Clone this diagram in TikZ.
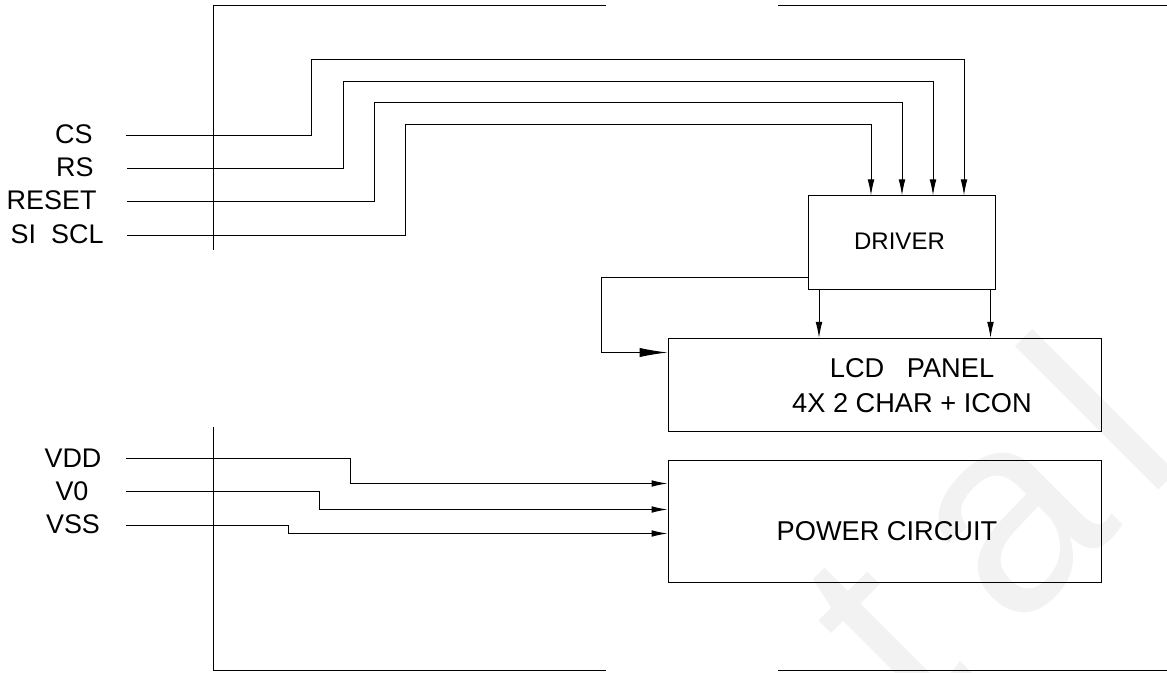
\documentclass[tikz,border=0pt]{standalone}
\usepackage{fontspec}
\setmainfont{Liberation Sans}
\usetikzlibrary{arrows.meta}
\tikzset{
  box/.style={draw, minimum width=#1, inner sep=0pt},
  lbl/.style={inner sep=0pt, font=\fontsize{20.2}{24}\selectfont},
  txt/.style={inner sep=0pt, align=center, font=\fontsize{20.4}{26.2}\selectfont},
  sig/.style={-{Latex[length=12pt,width=5pt]}}
}
\begin{document}
\begin{tikzpicture}[x=0.75pt, y=-0.75pt, line width=0.75pt]
\useasboundingbox (0,-0.5) rectangle (1167,672.5);
% watermark
\node[rotate=45, text=black!5, inner sep=0pt, font=\fontsize{210}{210}\selectfont] (mark) at (984,523) {t\kern41pt a\kern23pt l};
% outer frame
\draw (606,5) -- (213,5) -- (213,250);
\draw (778,5) -- (1167,5);
\draw (213,426) -- (213,670) -- (606,670);
\draw (778,670) -- (1167,670);
% blocks
\node[box, minimum width=140.25pt, minimum height=70.5pt] (driver) at (901.5,242) {};
\node[box, minimum width=324.75pt, minimum height=69.75pt] (lcd) at (884.5,384.5) {};
\node[box, minimum width=324.75pt, minimum height=91.5pt] (power) at (884.5,521) {};
\node[lbl, font=\fontsize{18}{22}\selectfont] (drivertext) at (899.5,241) {DRIVER};
\node[txt] (lcdtext) at (912,385.5) {LCD\ \ \ PANEL\\4X 2 CHAR + ICON};
\node[txt] (powertext) at (887,531) {POWER CIRCUIT};
% input names
\node[lbl, anchor=east] (cs) at (93,134) {CS};
\node[lbl, anchor=east] (rs) at (94,167) {RS};
\node[lbl, anchor=east] (reset) at (97,200) {RESET};
\node[lbl, anchor=east] (si) at (104,234) {SI\ \ SCL};
\node[lbl] (vdd) at (73,458) {VDD};
\node[lbl] (vzero) at (72,491) {V0};
\node[lbl] (vss) at (73,524) {VSS};
% line ends
\coordinate (csin) at (126,135);
\coordinate (rsin) at (127,168);
\coordinate (resetin) at (127,201);
\coordinate (siin) at (127,235);
\coordinate (vddin) at (126,458);
\coordinate (vzeroin) at (126,491);
\coordinate (vssin) at (126,525);
\coordinate (csout) at (964,195);
\coordinate (rsout) at (933,195);
\coordinate (resetout) at (902,195);
\coordinate (siout) at (871,195);
% driver inputs
\draw[sig] (csin) -| (311,59) -| (csout);
\draw[sig] (rsin) -| (343,81) -| (rsout);
\draw[sig] (resetin) -| (374,102) -| (resetout);
\draw[sig] (siin) -| (405,124) -| (siout);
% driver outputs
\draw[sig] (driver.south west) ++(11.5,0) coordinate (dl) -- (dl |- lcd.north);
\draw[sig] (driver.south east) ++(-5,0) coordinate (dr) -- (dr |- lcd.north);
\draw[-{Latex[length=21pt,width=7pt]}] (driver.west |- 0,277) coordinate (fb) -- (601,277) |- (lcd.west |- 0,352);
% power lines
\draw[sig] (vddin) -| (350,483) -- (power.west |- 0,483);
\draw[sig] (vzeroin) -| (319,509) -- (power.west |- 0,509);
\draw[sig] (vssin) -| (288,533) -- (power.west |- 0,533);
\end{tikzpicture}
\end{document}
